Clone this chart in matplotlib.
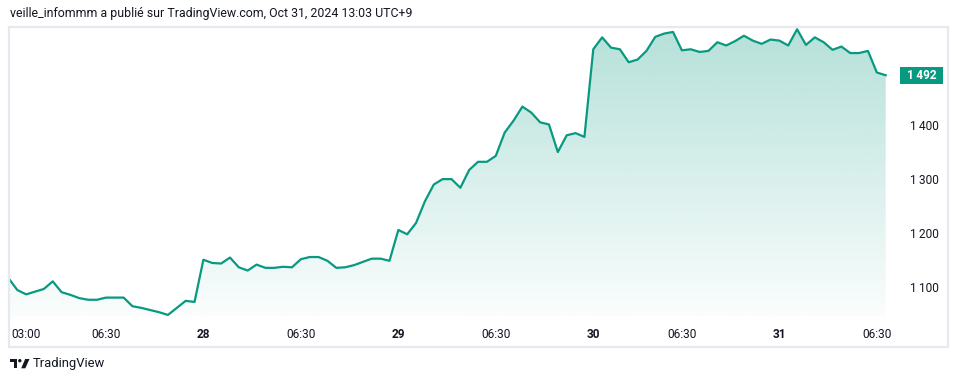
import numpy as np
import matplotlib.pyplot as plt
from matplotlib.patches import Rectangle, Polygon, Ellipse

# 100 bars
prices = [1117, 1095, 1087, 1092, 1097, 1111, 1091, 1086, 1080, 1077,
          1077, 1081, 1081, 1081, 1065, 1062, 1058, 1054, 1049, 1062,
          1075, 1073, 1151, 1145, 1144, 1155, 1137, 1131, 1142, 1136,
          1136, 1138, 1137, 1152, 1156, 1156, 1149, 1136, 1137, 1141,
          1147, 1153, 1153, 1149, 1206, 1198, 1219, 1259, 1290, 1300,
          1300, 1284, 1317, 1332, 1332, 1343, 1386, 1408, 1434, 1423,
          1405, 1401, 1350, 1381, 1385, 1378, 1540, 1562, 1543, 1540,
          1516, 1521, 1537, 1563, 1569, 1572, 1538, 1540, 1535, 1537,
          1553, 1547, 1555, 1565, 1556, 1550, 1558, 1556, 1547, 1577,
          1548, 1562, 1553, 1539, 1545, 1533, 1533, 1537, 1497, 1492]
time_tick_idx = [2, 11, 22, 33, 44, 55, 66, 76, 87, 98]
time_tick_labels = ["03:00", "06:30", "28", "06:30", "29", "06:30", "30", "06:30", "31", "06:30"]
price_ticks = [1100, 1200, 1300, 1400, 1500]
last_price = 1492
title = "veille_infommm a publié sur TradingView.com, Oct 31, 2024 13:03 UTC+9"

GREEN = '#089981'
TXT = '#131722'
FONT = ['Roboto', 'DejaVu Sans']

W, H = 958, 382
fig = plt.figure(figsize=(W / 100, H / 100), dpi=100)
fig.patch.set_facecolor('white')


def fx(x):
    return x / W


def fy(y):
    return 1 - y / H


ax = fig.add_axes([fx(10), fy(316), (895 - 10) / W, (316 - 28) / H])
x = np.arange(len(prices))
ax.set_xlim(0.176, 100.05)
ax.set_ylim(1047, 1579.3)

# gradient fill under the line
fill = ax.fill_between(x, prices, 1000, color='none', lw=0)
grad = np.linspace(0.02, 0.30, 256).reshape(-1, 1)
rgba = np.zeros((256, 1, 4))
rgba[..., 0] = 8 / 255
rgba[..., 1] = 153 / 255
rgba[..., 2] = 129 / 255
rgba[..., 3] = grad
img = ax.imshow(rgba, aspect='auto', origin='lower',
                extent=[0, len(prices) - 1, 1047, 1579.3], zorder=1)
img.set_clip_path(fill.get_paths()[0], transform=ax.transData)
ax.plot(x, prices, color=GREEN, lw=1.6, zorder=2, solid_joinstyle='round')

for s in ax.spines.values():
    s.set_visible(False)

ax.set_xticks(time_tick_idx)
ax.set_xticklabels(time_tick_labels)
for lbl in ax.get_xticklabels():
    lbl.set_family(FONT)
    lbl.set_fontsize(8.6)
    lbl.set_color(TXT)
    if ':' not in lbl.get_text():
        lbl.set_fontweight('bold')
ax.tick_params(axis='x', length=0, pad=9)

ax.yaxis.tick_right()
ax.set_yticks(price_ticks)
ax.set_yticklabels([f"{p // 1000}\u2009{p % 1000:03d}" for p in price_ticks])
for lbl in ax.get_yticklabels():
    lbl.set_family(FONT)
    lbl.set_fontsize(8.6)
    lbl.set_color(TXT)
ax.tick_params(axis='y', length=0, pad=11)

# outer frame
fig.patches.append(Rectangle((fx(9), fy(347)), (948 - 9) / W, (347 - 27) / H,
                             transform=fig.transFigure, fill=False,
                             ec='#e6e9ef', lw=1.6, zorder=5))

# last price label (sits over the 1 500 tick, as in the original)
fig.patches.append(Rectangle((fx(900), fy(83.5)), 43 / W, 16.5 / H,
                             transform=fig.transFigure, fc=GREEN, ec='none', zorder=6))
fig.text(fx(921.5), fy(75.5), f"{last_price // 1000}\u2009{last_price % 1000:03d}",
         color='white', fontsize=8.6, fontweight='bold', family=FONT,
         ha='center', va='center', zorder=7)

fig.text(fx(10), fy(13), title, color=TXT, fontsize=8.9, family=FONT,
         ha='left', va='center')

# TradingView logo + name
fig.patches.append(Polygon([(fx(10), fy(359)), (fx(17.3), fy(359)), (fx(17.3), fy(368.3)),
                            (fx(13.8), fy(368.3)), (fx(13.8), fy(362.2)), (fx(10), fy(362.2))],
                           closed=True, transform=fig.transFigure, fc=TXT, ec='none'))
fig.patches.append(Ellipse((fx(19.8), fy(360.7)), 3.4 / W, 3.4 / H,
                           transform=fig.transFigure, fc=TXT, ec='none'))
fig.patches.append(Polygon([(fx(25.2), fy(359)), (fx(29.5), fy(359)), (fx(25.3), fy(368.3)),
                            (fx(21.2), fy(368.3))],
                           closed=True, transform=fig.transFigure, fc=TXT, ec='none'))
fig.text(fx(33), fy(364), "TradingView", color=TXT, fontsize=9.4, family=FONT,
         ha='left', va='center')

fig.savefig('out.png', dpi=100)
